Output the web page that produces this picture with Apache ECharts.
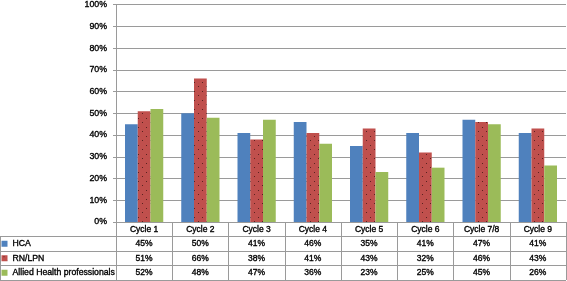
<!DOCTYPE html>
<html><head><meta charset="utf-8">
<script src="https://cdn.jsdelivr.net/npm/echarts@6/dist/echarts.min.js"></script>
<style>html,body{margin:0;padding:0;background:#fff}#c{width:567px;height:281px}</style>
</head><body><div id="c"></div>
<script>
const categories = ['Cycle 1','Cycle 2','Cycle 3','Cycle 4','Cycle 5','Cycle 6','Cycle 7/8','Cycle 9'];
const seriesNames = ['HCA','RN/LPN','Allied Health professionals'];
const hca = [45,50,41,46,35,41,47,41];
const rnlpn = [51,66,38,41,43,32,46,43];
const allied = [52,48,47,36,23,25,45,26];
const tableRows = [0,1,2,3];

const FONT = '"Liberation Sans", Arial, sans-serif';
const GRID = '#9a9a9a';
const heavy = {color:'#000', fontFamily:FONT, textBorderColor:'#000', textBorderWidth:0.35};

// dotted red pattern
const pc = document.createElement('canvas');
pc.width = 8; pc.height = 9;
const g = pc.getContext('2d');
g.fillStyle = '#C0504D'; g.fillRect(0,0,8,9);
g.fillStyle = '#5a2220';
g.fillRect(2,1,1,1); g.fillRect(6,5,1,1);

const chart = echarts.init(document.getElementById('c'), null, {renderer:'canvas'});
chart.setOption({
  animation:false,
  backgroundColor:'#fff',
  textStyle:{fontFamily:FONT},
  legend:{
    data:seriesNames, orient:'vertical', left:1.5, top:236.5, padding:0,
    itemWidth:6, itemHeight:6, itemGap:0, icon:'rect',
    textStyle:Object.assign({fontSize:8.7, lineHeight:14.5}, heavy),
    selectedMode:false
  },
  grid:[
    {left:116, right:1, top:3, bottom:59},
    {left:0, right:1, top:236.5, bottom:1},
    {left:116, right:1, top:222, bottom:1}
  ],
  xAxis:[
    {gridIndex:0, type:'category', data:categories,
     axisLine:{show:true, lineStyle:{color:GRID}}, axisTick:{show:false},
     axisLabel:Object.assign({margin:0, interval:0, fontSize:8.5, lineHeight:14.5,
       formatter:(v,i)=>[v, hca[i]+'%', rnlpn[i]+'%', allied[i]+'%'].join('\n')}, heavy)},
    {gridIndex:1, type:'value', min:0, max:1, show:true,
     axisLine:{show:false}, axisTick:{show:false}, axisLabel:{show:false}, splitLine:{show:false}},
    {gridIndex:2, type:'category', data:categories,
     axisLine:{show:false}, axisTick:{show:false}, axisLabel:{show:false},
     splitLine:{show:true, interval:0, lineStyle:{color:GRID}}}
  ],
  yAxis:[
    {gridIndex:0, type:'value', min:0, max:100, interval:10,
     axisLine:{show:true, lineStyle:{color:GRID}},
     axisTick:{show:true, length:3, lineStyle:{color:GRID}},
     axisLabel:Object.assign({formatter:'{value}%', fontSize:8.8, margin:9}, heavy),
     splitLine:{show:true, lineStyle:{color:GRID}}},
    {gridIndex:1, type:'value', min:0, max:tableRows.length-1, interval:1,
     axisLine:{show:true, lineStyle:{color:GRID}}, axisTick:{show:false}, axisLabel:{show:false},
     splitLine:{show:true, lineStyle:{color:GRID}}},
    {gridIndex:2, type:'value', show:false, splitLine:{show:false}}
  ],
  series:[
    {name:seriesNames[0], type:'bar', data:hca, barGap:'0%', barCategoryGap:'32%',
     itemStyle:{color:'#4F81BD'}},
    {name:seriesNames[1], type:'bar', data:rnlpn, barGap:'0%', barCategoryGap:'32%',
     itemStyle:{color:{image:pc, repeat:'repeat'}}},
    {name:seriesNames[2], type:'bar', data:allied, barGap:'0%', barCategoryGap:'32%',
     itemStyle:{color:'#9BBB59'}}
  ]
});
</script></body></html>
